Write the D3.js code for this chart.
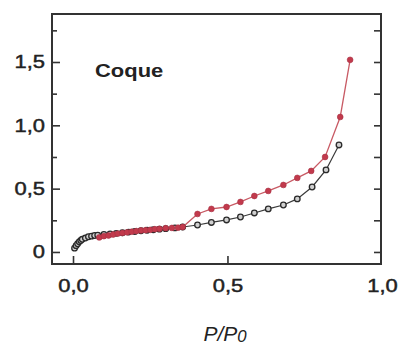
<!DOCTYPE html>
<html>
<head>
<meta charset="utf-8">
<script src="https://cdn.jsdelivr.net/npm/d3@7/dist/d3.min.js"></script>
<style>
  html, body { margin: 0; padding: 0; background: #fff; }
  svg { display: block; }
  text { font-family: "Liberation Sans", Arial, sans-serif; fill: #222; }
</style>
</head>
<body>
<svg id="chart" width="398" height="347"></svg>
<script>
// Adsorption branch (open black circles)
const adsP = [0.005, 0.01, 0.015, 0.02, 0.025, 0.03, 0.04, 0.05, 0.06, 0.07, 0.08, 0.10, 0.12, 0.14, 0.16, 0.18, 0.20, 0.22, 0.24, 0.26, 0.28, 0.30, 0.33, 0.355, 0.403, 0.448, 0.497, 0.542, 0.587, 0.632, 0.681, 0.726, 0.774, 0.819, 0.861];
const adsV = [0.03, 0.05, 0.065, 0.08, 0.09, 0.10, 0.11, 0.12, 0.125, 0.13, 0.133, 0.138, 0.142, 0.147, 0.152, 0.157, 0.162, 0.167, 0.172, 0.176, 0.180, 0.184, 0.19, 0.197, 0.213, 0.233, 0.253, 0.276, 0.308, 0.340, 0.371, 0.419, 0.513, 0.648, 0.845];
// Desorption branch (filled red circles)
const desP = [0.085, 0.10, 0.115, 0.13, 0.145, 0.16, 0.175, 0.19, 0.205, 0.22, 0.235, 0.25, 0.265, 0.28, 0.30, 0.32, 0.34, 0.355, 0.403, 0.448, 0.497, 0.542, 0.587, 0.632, 0.681, 0.726, 0.771, 0.816, 0.865, 0.897];
const desV = [0.115, 0.125, 0.13, 0.138, 0.145, 0.15, 0.155, 0.16, 0.165, 0.17, 0.172, 0.175, 0.18, 0.183, 0.188, 0.19, 0.192, 0.197, 0.300, 0.340, 0.355, 0.395, 0.442, 0.482, 0.529, 0.585, 0.640, 0.750, 1.066, 1.517];
// Axis ticks
const xTicks = [0, 0.5, 1.0];
const xTickLabels = ["0,0", "0,5", "1,0"];
const yTicks = [0, 0.5, 1.0, 1.5];
const yTickLabels = ["0", "0,5", "1,0", "1,5"];
const yMinor = [0.25, 0.75, 1.25, 1.75];
const sampleName = "Coque";

const svg = d3.select("#chart");
const L = 52, R = 381, T = 14, B = 264;
const x = d3.scaleLinear().domain([-0.068, 0.997]).range([L, R]);
const y = d3.scaleLinear().domain([-0.095, 1.879]).range([B, T]);

const ads = adsP.map((p, i) => [p, adsV[i]]);
const des = desP.map((p, i) => [p, desV[i]]);

const line = d3.line().x(d => x(d[0])).y(d => y(d[1]));

// series: black first, red on top
svg.append("path").attr("d", line(ads)).attr("fill", "none")
  .attr("stroke", "#3a3a3a").attr("stroke-width", 1.2);
svg.append("g").selectAll("circle").data(ads).join("circle")
  .attr("cx", d => x(d[0])).attr("cy", d => y(d[1])).attr("r", 2.8)
  .attr("fill", "#d0d0d0").attr("stroke", "#2a2a2a").attr("stroke-width", 1.3);

svg.append("path").attr("d", line(des)).attr("fill", "none")
  .attr("stroke", "#c85a64").attr("stroke-width", 1.3);
svg.append("g").selectAll("circle").data(des).join("circle")
  .attr("cx", d => x(d[0])).attr("cy", d => y(d[1])).attr("r", 2.9)
  .attr("fill", "#c23a4c").attr("stroke", "#a83244").attr("stroke-width", 0.6);

// frame
svg.append("rect").attr("x", L).attr("y", T).attr("width", R - L).attr("height", B - T)
  .attr("fill", "none").attr("stroke", "#333").attr("stroke-width", 2);

// axes with inward ticks
const gyl = svg.append("g").attr("transform", `translate(${L},0)`)
  .call(d3.axisRight(y).tickValues(yTicks).tickSize(8).tickFormat(""));
const gylm = svg.append("g").attr("transform", `translate(${L},0)`)
  .call(d3.axisRight(y).tickValues(yMinor).tickSize(5).tickFormat(""));
const gyr = svg.append("g").attr("transform", `translate(${R},0)`)
  .call(d3.axisLeft(y).tickValues(yTicks.concat(yMinor)).tickSize(7).tickFormat(""));
const gx = svg.append("g").attr("transform", `translate(0,${B})`)
  .call(d3.axisTop(x).tickValues(xTicks.filter(v => x(v) < R - 2)).tickSize(8).tickFormat(""));
[gyl, gylm, gyr, gx].forEach(g => {
  g.select(".domain").remove();
  g.selectAll("line").attr("stroke", "#333").attr("stroke-width", 1.6);
});

const SX = 1.22; // reference glyphs are horizontally stretched

// tick labels
svg.append("g").selectAll("text").data(yTicks).join("text")
  .attr("transform", d => `translate(45,${y(d) + 6.5}) scale(${SX},1)`)
  .attr("text-anchor", "end").attr("font-size", 18)
  .attr("stroke", "#222").attr("stroke-width", 0.45)
  .text((d, i) => yTickLabels[i]);
svg.append("g").selectAll("text").data(xTicks).join("text")
  .attr("transform", d => `translate(${x(d) + 0.5},292) scale(${SX},1)`)
  .attr("text-anchor", "middle").attr("font-size", 18)
  .attr("stroke", "#222").attr("stroke-width", 0.45)
  .text((d, i) => xTickLabels[i]);

// sample name
svg.append("text").attr("transform", `translate(95,77) scale(${SX},1)`)
  .attr("font-size", 18).attr("font-weight", "bold").text(sampleName);

// x axis title
const xt = svg.append("text").attr("transform", `translate(225,341) scale(1.05,1)`)
  .attr("text-anchor", "middle").attr("font-size", 20).attr("font-style", "italic");
xt.append("tspan").text("P/P");
xt.append("tspan").attr("font-size", 16).attr("dy", 1).text("0");
</script>
</body>
</html>
